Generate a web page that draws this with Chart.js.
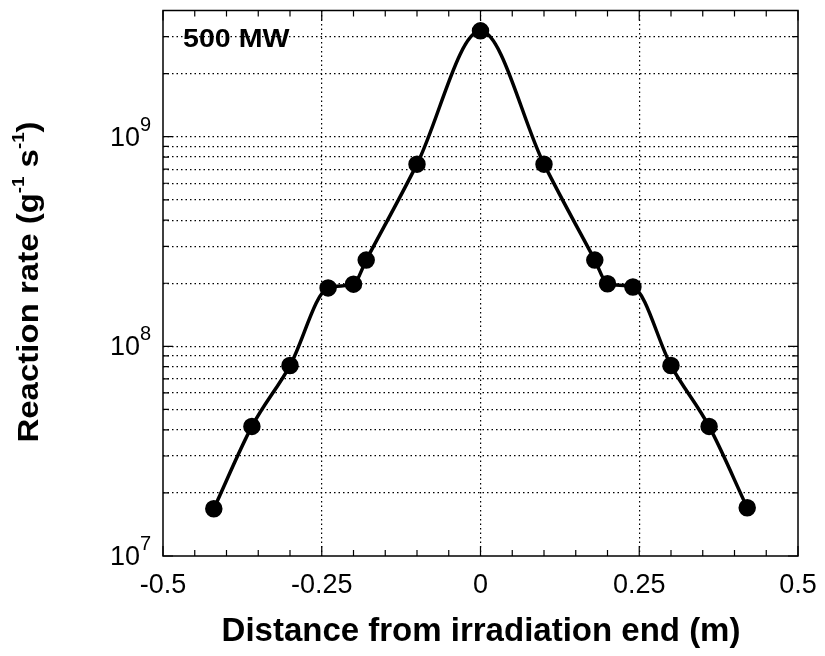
<!DOCTYPE html>
<html>
<head>
<meta charset="utf-8">
<script src="https://cdn.jsdelivr.net/npm/chart.js@4/dist/chart.umd.min.js"></script>
<style>
html,body{margin:0;padding:0;background:#fff}
</style>
</head>
<body>
<canvas id="chart" width="825" height="656"></canvas>
<script>
// distance from irradiation end (m) and reaction rate (g^-1 s^-1)
const distance=[-0.42,-0.36,-0.30,-0.24,-0.20,-0.18,-0.10,0,0.10,0.18,0.20,0.24,0.30,0.36,0.42];
const rate=[1.68e7,4.15e7,8.1e7,1.9e8,1.98e8,2.58e8,7.4e8,3.2e9,7.4e8,2.58e8,1.99e8,1.92e8,8.1e7,4.15e7,1.7e7];
const xMajor=[-0.5,-0.25,0,0.25,0.5];
const xMinor=[-0.5,-0.45,-0.4,-0.35,-0.3,-0.25,-0.2,-0.15,-0.1,-0.05,0,0.05,0.1,0.15,0.2,0.25,0.3,0.35,0.4,0.45,0.5];
const yDecades=[7,8,9];
const yTicks=[1e7,2e7,3e7,4e7,5e7,6e7,7e7,8e7,9e7,1e8,2e8,3e8,4e8,5e8,6e8,7e8,8e8,9e8,1e9,2e9,3e9,4e9];

const FONT="'Liberation Sans', Arial, Helvetica, sans-serif";

const frame={
 id:"frame",
 afterDraw(c){
  const g=c.ctx, a=c.chartArea, xs=c.scales.x, ys=c.scales.y;
  g.save();
  g.strokeStyle="#000";
  g.lineWidth=1.5;
  g.strokeRect(a.left,a.top,a.right-a.left,a.bottom-a.top);
  g.lineWidth=1.2;
  g.beginPath();
  xMinor.forEach(v=>{
   const px=xs.getPixelForValue(v);
   const L=xMajor.includes(v)?10:6;
   g.moveTo(px,a.bottom);g.lineTo(px,a.bottom-L);
   g.moveTo(px,a.top);g.lineTo(px,a.top+L);
  });
  yTicks.forEach(v=>{
   const py=ys.getPixelForValue(v);
   const L=yDecades.some(d=>Math.abs(Math.log10(v)-d)<1e-9)?10:6;
   g.moveTo(a.left,py);g.lineTo(a.left+L,py);
   g.moveTo(a.right,py);g.lineTo(a.right-L,py);
  });
  g.stroke();
  g.fillStyle="#000";
  // x tick labels
  g.font="27px "+FONT;
  g.textAlign="center";g.textBaseline="alphabetic";
  xMajor.forEach(v=>{
   g.fillText(String(v),xs.getPixelForValue(v),593);
  });
  // y tick labels 10^n
  yDecades.forEach(d=>{
   const py=ys.getPixelForValue(Math.pow(10,d));
   g.font="27px "+FONT;
   g.textAlign="right";
   g.fillText("10",140,py+9);
   g.font="20px "+FONT;
   g.textAlign="left";
   g.fillText(String(d),140,py-6);
  });
  // x title
  g.font="bold 33px "+FONT;
  g.textAlign="center";
  g.fillText("Distance from irradiation end (m)",481,641);
  // y title with superscripts
  g.save();
  g.translate(38,282);
  g.rotate(-Math.PI/2);
  g.scale(1.1,1);
  const parts=[["Reaction rate (g",0],["-1",1],[" s",0],["-1",1],[")",0]];
  const big="bold 30px "+FONT, sm="bold 17px "+FONT;
  let w=0;
  parts.forEach(p=>{g.font=p[1]?sm:big;w+=g.measureText(p[0]).width;});
  let x=-w/2;
  g.textAlign="left";
  parts.forEach(p=>{
   g.font=p[1]?sm:big;
   g.fillText(p[0],x,p[1]?-14:0);
   x+=g.measureText(p[0]).width;
  });
  g.restore();
  // panel label
  g.font="bold 26px "+FONT;
  g.textAlign="left";
  g.save();
  g.translate(183,47);
  g.scale(1.1,1);
  g.fillText("500 MW",0,0);
  g.restore();
  g.restore();
 }
};

const ctx=document.getElementById("chart").getContext("2d");
const chart=new Chart(ctx,{
 type:"line",
 data:{datasets:[{
  label:"500 MW",
  data:distance.map((x,i)=>({x:x,y:rate[i]})),
  borderColor:"#000",backgroundColor:"#000",
  borderWidth:3.5,pointRadius:7,pointHoverRadius:7,
  cubicInterpolationMode:"monotone",fill:false
 }]},
 options:{
  responsive:false,animation:false,devicePixelRatio:1,
  layout:{padding:{top:10,right:27,left:0,bottom:0}},
  plugins:{legend:{display:false},tooltip:{enabled:false}},
  scales:{
   x:{type:"linear",min:-0.5,max:0.5,
    afterBuildTicks:s=>{s.ticks=xMinor.map(v=>({value:v}));},
    afterFit:s=>{s.height=100;},
    ticks:{display:false},
    border:{display:false,dash:[1.5,3]},
    grid:{drawTicks:false,lineWidth:1.2,
     color:c=>{const v=c.tick&&c.tick.value;return (Math.abs(v)<1e-9||Math.abs(Math.abs(v)-0.25)<1e-9)?"#000":"rgba(0,0,0,0)";}}
   },
   y:{type:"logarithmic",min:1e7,max:4e9,
    afterBuildTicks:s=>{s.ticks=yTicks.map(v=>({value:v}));},
    afterFit:s=>{s.width=163;},
    ticks:{display:false},
    border:{display:false,dash:[1.5,3]},
    grid:{drawTicks:false,lineWidth:1.2,
     color:c=>{const v=c.tick&&c.tick.value;return (v>1e7&&v<4e9)?"#000":"rgba(0,0,0,0)";}}
   }
  }
 },
 plugins:[frame]
});
</script>
</body>
</html>
